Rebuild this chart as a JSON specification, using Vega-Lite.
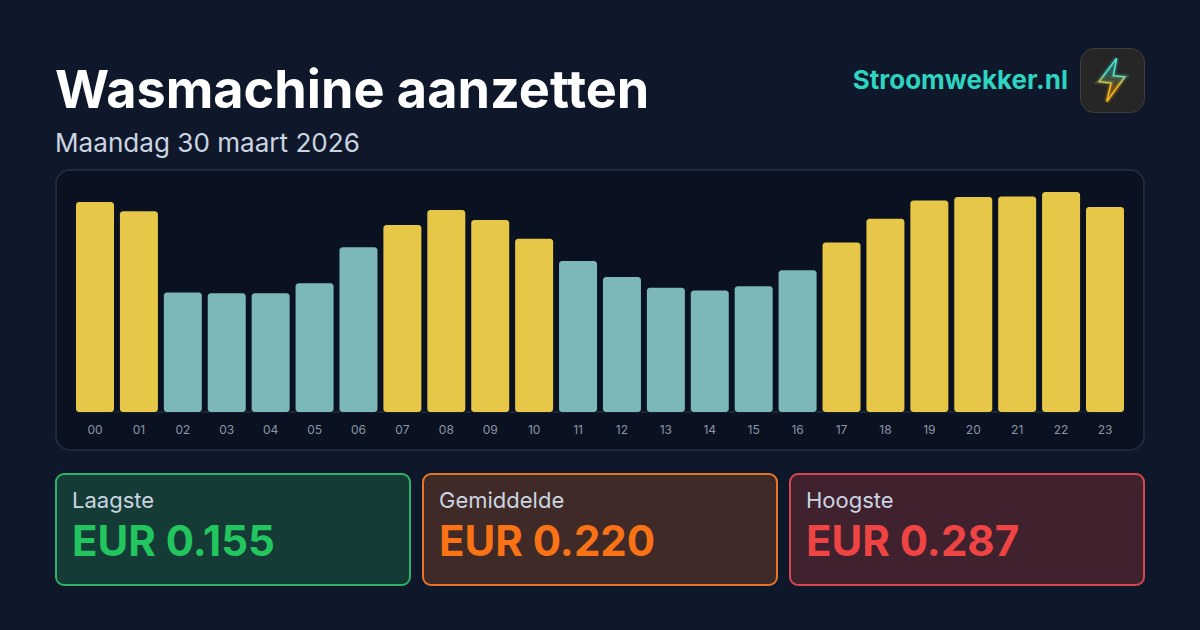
{"$schema":"https://vega.github.io/schema/vega-lite/v6.json","background":"#0f172a","padding":{"left":55,"top":45,"right":55,"bottom":50},"spacing":9,"config":{"view":{"stroke":null},"font":"Inter"},"datasets":{"prices":[{"uur":"00","prijs":0.274,"niveau":"boven"},{"uur":"01","prijs":0.262,"niveau":"boven"},{"uur":"02","prijs":0.156,"niveau":"onder"},{"uur":"03","prijs":0.155,"niveau":"onder"},{"uur":"04","prijs":0.155,"niveau":"onder"},{"uur":"05","prijs":0.168,"niveau":"onder"},{"uur":"06","prijs":0.215,"niveau":"onder"},{"uur":"07","prijs":0.244,"niveau":"boven"},{"uur":"08","prijs":0.2635,"niveau":"boven"},{"uur":"09","prijs":0.2505,"niveau":"boven"},{"uur":"10","prijs":0.226,"niveau":"boven"},{"uur":"11","prijs":0.197,"niveau":"onder"},{"uur":"12","prijs":0.176,"niveau":"onder"},{"uur":"13","prijs":0.162,"niveau":"onder"},{"uur":"14","prijs":0.1585,"niveau":"onder"},{"uur":"15","prijs":0.164,"niveau":"onder"},{"uur":"16","prijs":0.185,"niveau":"onder"},{"uur":"17","prijs":0.221,"niveau":"boven"},{"uur":"18","prijs":0.252,"niveau":"boven"},{"uur":"19","prijs":0.276,"niveau":"boven"},{"uur":"20","prijs":0.2805,"niveau":"boven"},{"uur":"21","prijs":0.281,"niveau":"boven"},{"uur":"22","prijs":0.287,"niveau":"boven"},{"uur":"23","prijs":0.2675,"niveau":"boven"}]},"vconcat":[{"hconcat":[{"width":758,"height":112,"data":{"values":[{"titel":"Wasmachine aanzetten","sub":"Maandag 30 maart 2026"}]},"layer":[{"mark":{"type":"text","align":"left","baseline":"alphabetic","font":"Inter","fontWeight":700,"fontSize":52.2,"fill":"#ffffff","dx":-380,"dy":4},"encoding":{"text":{"field":"titel"}}},{"mark":{"type":"text","align":"left","baseline":"alphabetic","font":"Inter","fontSize":26.1,"fill":"#cbd5e1","dx":-380,"dy":48},"encoding":{"text":{"field":"sub"}}}]},{"width":242,"height":64,"data":{"values":[{"merk":"Stroomwekker.nl"}]},"mark":{"type":"text","align":"right","baseline":"middle","font":"Inter","fontWeight":700,"fontSize":26,"fill":"#2dd4bf","dx":122,"dy":1},"encoding":{"text":{"field":"merk"}}},{"width":64,"height":64,"view":{"fill":"#262626","stroke":"#3d3d3d","cornerRadius":14},"data":{"values":[{"merk":"bliksem"}]},"encoding":{},"layer":[{"mark":{"type":"point","shape":"M0.2 -0.94 L-0.565 0.07 L-0.04 0.13 L-0.23 0.94 L0.565 -0.14 L0.06 -0.19 Z","size":2116,"filled":false,"strokeWidth":6,"strokeOpacity":0.22,"stroke":{"gradient":"linear","x1":0,"y1":0,"x2":0,"y2":1,"stops":[{"offset":0.35,"color":"#2dd4bf"},{"offset":0.65,"color":"#f59e0b"}]}},"encoding":{}},{"mark":{"type":"point","shape":"M0.2 -0.94 L-0.565 0.07 L-0.04 0.13 L-0.23 0.94 L0.565 -0.14 L0.06 -0.19 Z","size":2116,"filled":false,"strokeWidth":3.5,"strokeOpacity":0.3,"stroke":{"gradient":"linear","x1":0,"y1":0,"x2":0,"y2":1,"stops":[{"offset":0.35,"color":"#2dd4bf"},{"offset":0.65,"color":"#f59e0b"}]}},"encoding":{}},{"mark":{"type":"point","shape":"M0.2 -0.94 L-0.565 0.07 L-0.04 0.13 L-0.23 0.94 L0.565 -0.14 L0.06 -0.19 Z","size":2116,"filled":true,"fillOpacity":0.25,"opacity":1,"strokeWidth":1.4,"strokeOpacity":1,"fill":{"gradient":"linear","x1":0,"y1":0,"x2":0,"y2":1,"stops":[{"offset":0.35,"color":"#2dd4bf"},{"offset":0.65,"color":"#f59e0b"}]},"stroke":{"gradient":"linear","x1":0,"y1":0,"x2":0,"y2":1,"stops":[{"offset":0.35,"color":"#5eead4"},{"offset":0.65,"color":"#fbbf24"}]}},"encoding":{}}]}],"spacing":11},{"vconcat":[{"width":1088,"height":280,"view":{"fill":"#0a1120","stroke":"#1e293b","strokeWidth":2,"cornerRadius":14},"data":{"name":"prices"},"encoding":{"x":{"field":"uur","type":"ordinal","title":null,"scale":{"paddingInner":0.1346,"paddingOuter":0.4555},"axis":{"orient":"bottom","offset":-38,"labelAngle":0,"labelPadding":12,"labelFontSize":12,"labelFont":"Inter","labelColor":"#8b95a5","ticks":false,"domain":false,"grid":false}}},"layer":[{"transform":[{"filter":"datum.uur !== '00' && datum.uur !== '23'"}],"mark":{"type":"tick","orient":"horizontal","size":50,"thickness":1,"color":"#2b3849"},"encoding":{"y":{"datum":0,"type":"quantitative","axis":null,"scale":{"domain":[-0.04957,0.3157],"nice":false,"zero":false}}}},{"transform":[{"filter":"datum.uur === '00' || datum.uur === '23'"}],"mark":{"type":"tick","orient":"horizontal","size":38,"thickness":1,"color":"#2b3849"},"encoding":{"y":{"datum":0,"type":"quantitative","axis":null,"scale":{"domain":[-0.04957,0.3157],"nice":false,"zero":false}}}},{"mark":{"type":"bar","cornerRadius":3},"encoding":{"y":{"field":"prijs","type":"quantitative","stack":null,"title":null,"axis":null,"scale":{"domain":[-0.04957,0.3157],"nice":false,"zero":false}},"y2":{"datum":0},"color":{"field":"niveau","type":"nominal","legend":null,"scale":{"domain":["boven","onder"],"range":["#e6c747","#7cb8b9"]}}}}]},{"hconcat":[{"width":354,"height":111,"view":{"fill":"#153b36","stroke":"#2cb366","strokeWidth":2,"cornerRadius":8},"data":{"values":[{"label":"Laagste","bedrag":"EUR 0.155"}]},"layer":[{"mark":{"type":"text","align":"left","baseline":"alphabetic","font":"Inter","fontSize":22,"fill":"#cbd5e1","dx":-161,"dy":-22},"encoding":{"text":{"field":"label"}}},{"mark":{"type":"text","align":"left","baseline":"alphabetic","font":"Inter","fontWeight":700,"fontSize":42,"fill":"#22c55e","dx":-161,"dy":26},"encoding":{"text":{"field":"bedrag"}}}]},{"width":354,"height":111,"view":{"fill":"#402a27","stroke":"#e3762b","strokeWidth":2,"cornerRadius":8},"data":{"values":[{"label":"Gemiddelde","bedrag":"EUR 0.220"}]},"layer":[{"mark":{"type":"text","align":"left","baseline":"alphabetic","font":"Inter","fontSize":22,"fill":"#cbd5e1","dx":-161,"dy":-22},"encoding":{"text":{"field":"label"}}},{"mark":{"type":"text","align":"left","baseline":"alphabetic","font":"Inter","fontWeight":700,"fontSize":42,"fill":"#f97316","dx":-161,"dy":26},"encoding":{"text":{"field":"bedrag"}}}]},{"width":354,"height":111,"view":{"fill":"#40212e","stroke":"#d6484f","strokeWidth":2,"cornerRadius":8},"data":{"values":[{"label":"Hoogste","bedrag":"EUR 0.287"}]},"layer":[{"mark":{"type":"text","align":"left","baseline":"alphabetic","font":"Inter","fontSize":22,"fill":"#cbd5e1","dx":-161,"dy":-22},"encoding":{"text":{"field":"label"}}},{"mark":{"type":"text","align":"left","baseline":"alphabetic","font":"Inter","fontWeight":700,"fontSize":42,"fill":"#ef4444","dx":-161,"dy":26},"encoding":{"text":{"field":"bedrag"}}}]}],"spacing":11}],"spacing":22}]}
